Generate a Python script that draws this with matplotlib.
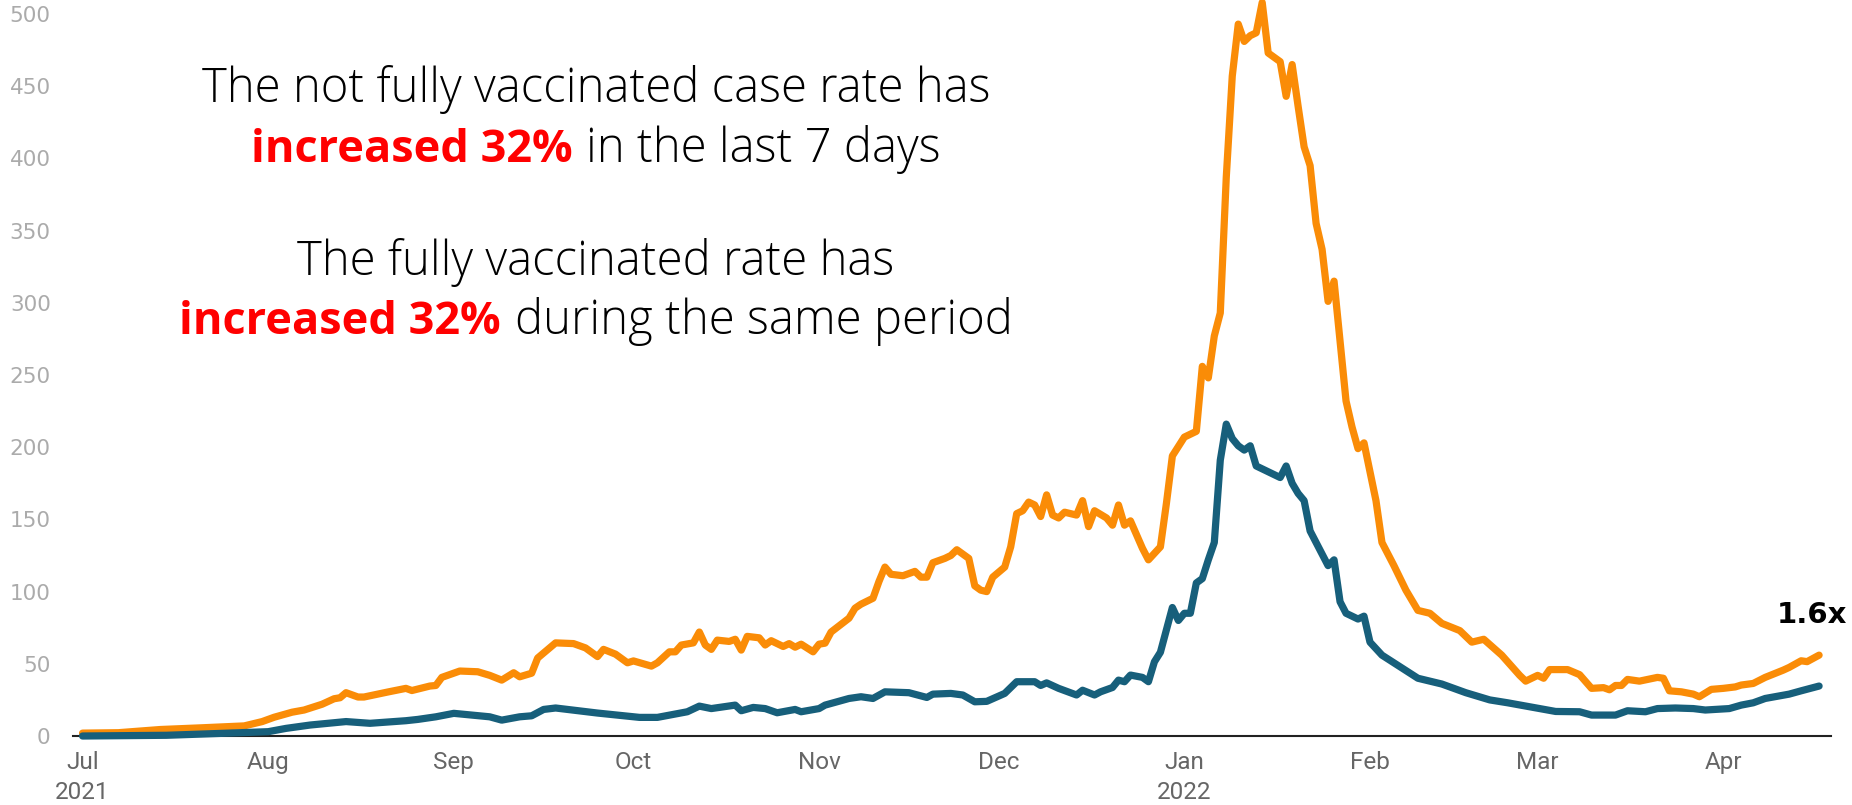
import numpy as np
import pandas as pd
import matplotlib
matplotlib.use("Agg")
import matplotlib.pyplot as plt
from matplotlib.offsetbox import TextArea, HPacker, AnnotationBbox

# --------------------------------------------------------------------------
# Data: 7-day case rates
# (day offsets counted from 1 Jul 2021)
# --------------------------------------------------------------------------
START = pd.Timestamp("2021-07-01")

NFV_DAYS = [0, 6, 13, 20, 27, 30, 32, 35, 37, 40,
            42, 43, 44, 46, 47, 51, 54, 55, 58, 59,
            60, 63, 66, 68, 70, 72, 73, 75, 76, 79,
            82, 84, 86, 87, 89, 91, 92, 95, 96, 98,
            99, 100, 102, 103, 104, 105, 106, 108, 109, 110,
            111, 113, 114, 115, 117, 118, 119, 120, 122, 123,
            124, 125, 128, 129, 130, 132, 133, 134, 135, 137,
            139, 140, 141, 142, 144, 145, 146, 148, 149, 150,
            151, 152, 154, 155, 156, 157, 158, 159, 160, 161,
            162, 163, 164, 166, 167, 168, 169, 171, 172, 173,
            174, 175, 177, 178, 180, 181, 182, 184, 186, 187,
            188, 189, 190, 191, 192, 193, 194, 195, 196, 197,
            198, 199, 200, 201, 202, 203, 204, 205, 206, 207,
            208, 209, 211, 212, 213, 214, 216, 217, 219, 221,
            223, 225, 227, 230, 232, 234, 237, 240, 241, 243,
            244, 245, 248, 250, 252, 254, 255, 256, 257, 258,
            260, 263, 264, 265, 267, 269, 270, 272, 274, 276,
            277, 279, 281, 284, 285, 287, 288, 290]
NFV_RATE = [2, 2.3, 4.5, 5.7, 7, 10, 13, 16.5, 18, 22,
            25.8, 26.5, 30, 27, 27, 30.5, 33, 31.5, 34.6, 35,
            40.6, 45, 44.5, 42, 38.7, 43.8, 41, 43.5, 54, 64.5,
            64, 61, 55, 60, 56.7, 50.7, 52, 48.4, 50.7, 58.3,
            58.3, 63, 64.5, 72, 63, 60, 66.4, 65.5, 67, 59.5,
            69, 68, 63, 66, 62, 64, 61.5, 63.6, 58.3, 63.6,
            64.3, 72, 81.6, 88.5, 91.3, 95.4, 107, 117, 112, 111,
            114, 110, 110, 120, 123, 125, 129, 123, 104, 101,
            100, 110, 117, 131, 154, 156, 162, 160, 152, 167,
            153, 151, 155, 153, 163, 145, 156, 151, 146, 160,
            146, 149, 130, 122, 131, 161, 194, 207, 211, 256,
            248, 277, 293, 387, 457, 493, 481, 485, 487, 508,
            473, 470, 467, 443, 465, 436, 408, 395, 355, 337,
            301, 315, 232, 214, 199, 203, 163, 134, 118, 101,
            87, 85, 78, 73, 65, 67, 56, 42, 38, 42,
            40, 46, 46, 42.5, 33, 33.5, 32, 35, 35, 39.2,
            38, 40.6, 40, 31.3, 30.6, 29, 27.2, 32.3, 33, 34,
            35.3, 36.4, 40.6, 45.6, 47.5, 52.1, 51.5, 56]

FV_DAYS = [0, 14, 23, 31, 34, 38, 42, 44, 48, 54,
           56, 59, 62, 65, 68, 70, 73, 75, 77, 79,
           86, 93, 96, 101, 103, 105, 109, 110, 112, 114,
           116, 119, 120, 123, 124, 128, 130, 132, 134, 138,
           141, 142, 145, 147, 149, 151, 154, 156, 159, 160,
           161, 163, 166, 167, 169, 170, 172, 173, 174, 175,
           177, 178, 179, 180, 182, 183, 184, 185, 186, 187,
           188, 189, 190, 191, 192, 193, 194, 195, 196, 197,
           199, 200, 201, 202, 203, 204, 205, 206, 208, 209,
           210, 211, 213, 214, 215, 217, 220, 223, 227, 231,
           235, 238, 242, 246, 250, 252, 256, 258, 261, 263,
           266, 269, 271, 275, 277, 279, 281, 285, 287, 290]
FV_RATE = [0, 0.5, 1.8, 3, 5.3, 7.6, 9.2, 10, 8.8, 10.6,
           11.5, 13.3, 15.7, 14.5, 13.3, 11, 13.3, 14, 18.4, 19.4,
           15.9, 12.9, 12.9, 16.8, 20.7, 19, 21.4, 17.5, 19.8, 19,
           16.1, 18.4, 16.8, 19, 21.4, 26, 27.2, 26, 30.6, 30,
           26.7, 29, 29.5, 28.4, 23.7, 24, 29.5, 37.6, 37.6, 35,
           36.8, 33, 28.4, 31.7, 28.4, 30.6, 33.6, 38.7, 37.6, 42.2,
           40.6, 37.6, 51.4, 58, 89, 80, 85, 85, 106, 109,
           122, 134, 191, 216, 206, 201, 198, 201, 187, 185,
           181, 179, 187, 175, 168, 163, 142, 134, 118, 122,
           93, 85, 81, 83, 65, 56, 48, 40, 36, 30,
           25, 23, 20, 17, 16.8, 14.5, 14.5, 17.5, 16.8, 19,
           19.4, 19, 18, 19, 21.4, 23, 26, 29, 31.3, 34.6]

TICK_DATES = ["2021-07-01", "2021-08-01", "2021-09-01", "2021-10-01", "2021-11-01",
              "2021-12-01", "2022-01-01", "2022-02-01", "2022-03-01", "2022-04-01"]
TICK_LABELS = ["Jul\n2021", "Aug", "Sep", "Oct", "Nov", "Dec", "Jan\n2022", "Feb",
               "Mar", "Apr"]
Y_TICKS = [0, 50, 100, 150, 200, 250, 300, 350, 400, 450, 500]

RATIO_LABEL = "1.6x"

COLOR_NFV = "#FA8C07"
COLOR_FV = "#175F7B"
COLOR_RED = "#FF0000"

# --------------------------------------------------------------------------
# Plot
# --------------------------------------------------------------------------
fig = plt.figure(figsize=(18.52, 8.05), dpi=100)
ax = fig.add_axes([0.0394, 0.0857, 0.9493, 0.9143])

nfv_dates = START + pd.to_timedelta(NFV_DAYS, unit="D")
fv_dates = START + pd.to_timedelta(FV_DAYS, unit="D")

ax.plot(nfv_dates, NFV_RATE, color=COLOR_NFV, linewidth=5.2,
        solid_joinstyle="round", solid_capstyle="round", clip_on=False, zorder=3)
ax.plot(fv_dates, FV_RATE, color=COLOR_FV, linewidth=5.2,
        solid_joinstyle="round", solid_capstyle="round", clip_on=False, zorder=4)

ax.set_xlim(START - pd.Timedelta(days=1.6), START + pd.Timedelta(days=292))
ax.set_ylim(0, 509.7)

ax.set_yticks(Y_TICKS)
ax.set_yticklabels([str(v) for v in Y_TICKS], family="DejaVu Sans",
                   fontsize=15.5, color="#ABABAB")
ax.tick_params(axis="y", length=0, pad=16)

ax.set_xticks(pd.to_datetime(TICK_DATES))
ax.set_xticklabels(TICK_LABELS, family="Roboto", fontsize=17.5, color="#666666",
                   linespacing=1.4)
ax.tick_params(axis="x", length=0, pad=10.5)

for side in ("top", "right", "left"):
    ax.spines[side].set_visible(False)
ax.spines["bottom"].set_color("#222222")
ax.spines["bottom"].set_linewidth(1.5)
ax.spines["bottom"].set_zorder(2)

ax.text(START + pd.Timedelta(days=288.8), 84, RATIO_LABEL, ha="center",
        va="center", fontsize=21, fontweight="bold", family="DejaVu Sans",
        color="black")

# --- headline annotation, mixed colours per line ---
FONT = "Open Sans"
plain = dict(family=FONT, fontsize=34, color="black", fontweight="light")
strong = dict(family=FONT, fontsize=32.5, color=COLOR_RED, fontweight="bold")

lines = [
    [("The not fully vaccinated case rate has", plain)],
    [("increased 32%", strong), ("in the last 7 days", plain)],
    [("The fully vaccinated rate has", plain)],
    [("increased 32%", strong), ("during the same period", plain)],
]
line_y = [0.8894, 0.8137, 0.6733, 0.6012]

for parts, y in zip(lines, line_y):
    boxes = [TextArea(txt, textprops=props) for txt, props in parts]
    row = HPacker(children=boxes, align="baseline", pad=0, sep=10)
    ab = AnnotationBbox(row, (0.3218, y), xycoords="figure fraction",
                        box_alignment=(0.5, 0.5), frameon=False)
    fig.add_artist(ab)

fig.savefig("out.png", dpi=100)
